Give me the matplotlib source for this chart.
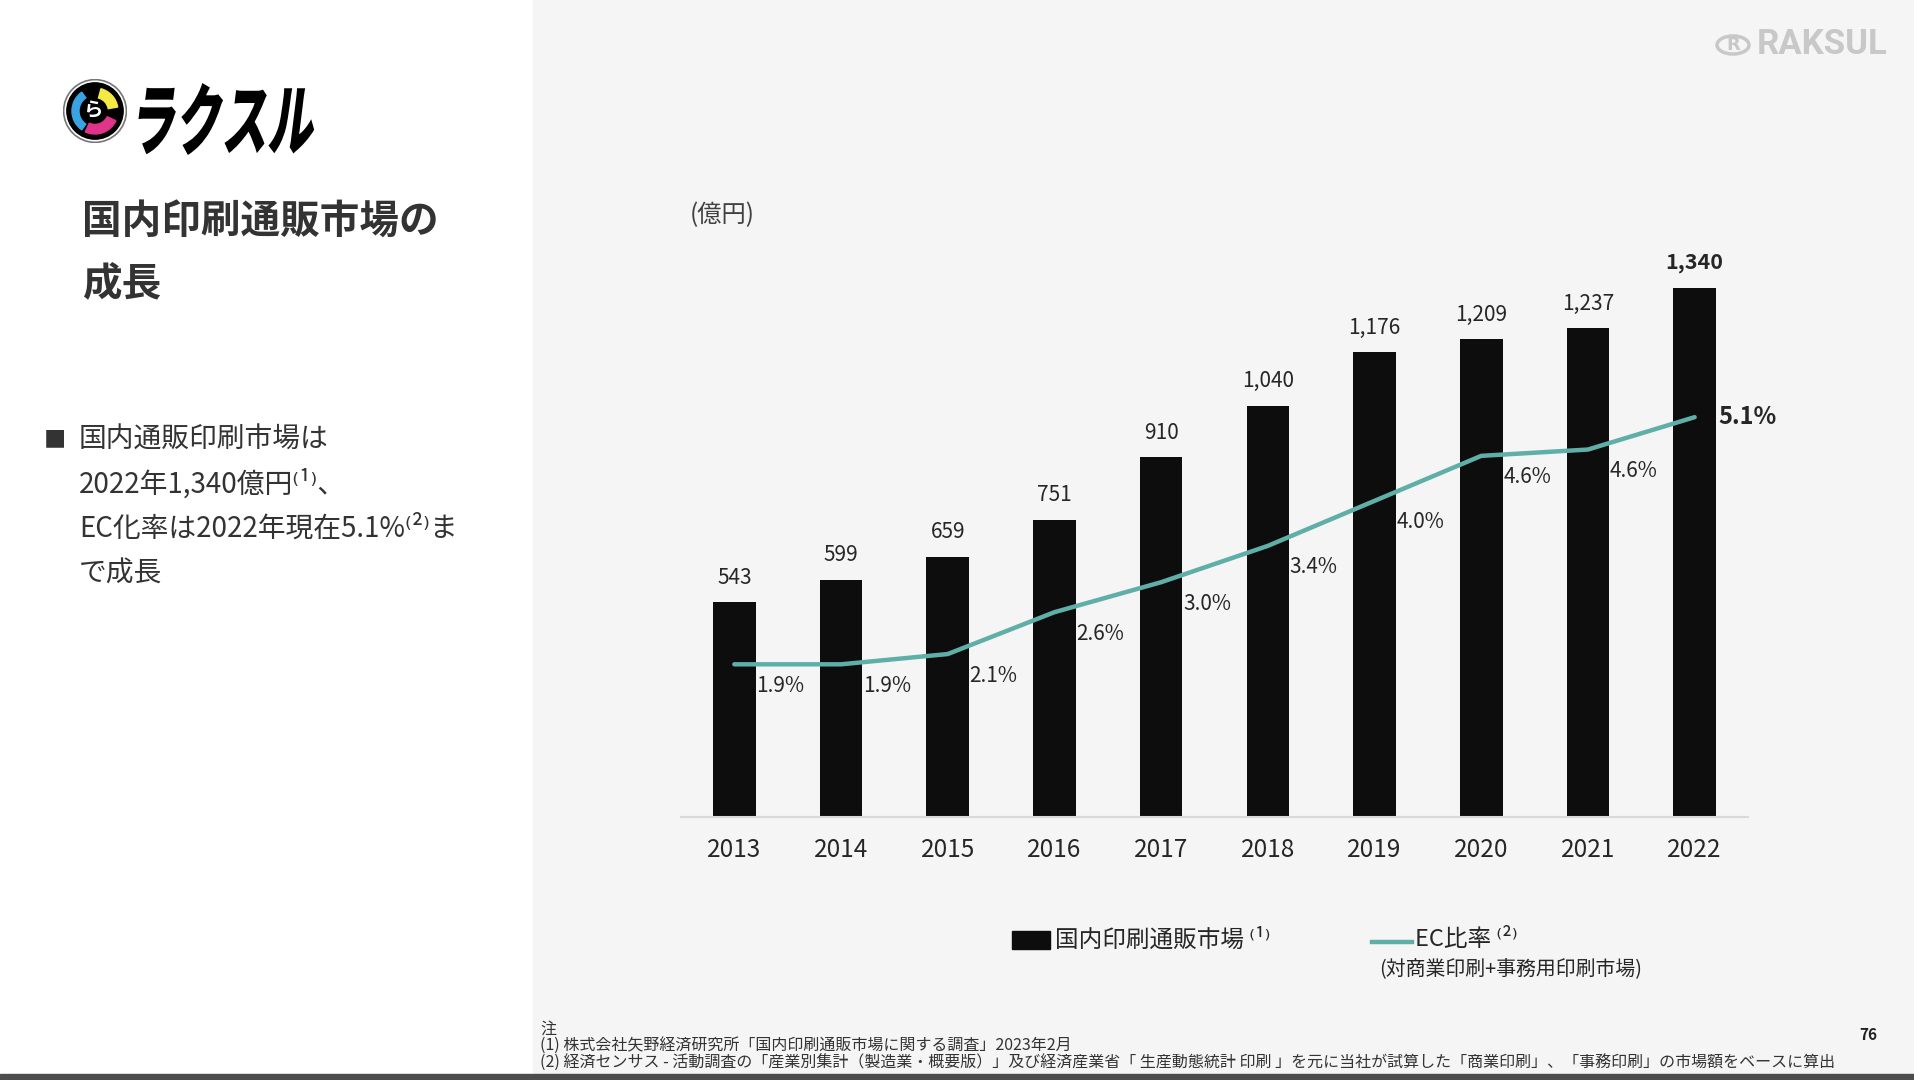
import numpy as np
import matplotlib.pyplot as plt
from matplotlib.patches import Rectangle, Circle, Wedge, PathPatch
from matplotlib.lines import Line2D
from matplotlib.textpath import TextPath
from matplotlib.font_manager import FontProperties
from matplotlib.transforms import Affine2D

plt.rcParams['font.family'] = ['Noto Sans CJK JP', 'DejaVu Sans']

### Data
years = ['2013', '2014', '2015', '2016', '2017', '2018', '2019', '2020', '2021', '2022']
market = [543, 599, 659, 751, 910, 1040, 1176, 1209, 1237, 1340]
ec_rate = [1.93, 1.93, 2.06, 2.59, 2.97, 3.43, 4.00, 4.57, 4.65, 5.06]
ec_labels = ['1.9%', '1.9%', '2.1%', '2.6%', '3.0%', '3.4%', '4.0%', '4.6%', '4.6%', '5.1%']

bar_color = '#0D0D0D'
line_color = '#5FAFA8'
text_color = '#262626'

### Figure in pixel units
W, H = 1914, 1080
fig = plt.figure(figsize=(W / 100, H / 100), dpi=100)
fig.patch.set_facecolor('white')

def fx(x):
    return x / W

def fy(y):
    return 1 - y / H

# gray right panel + dark strip at bottom (behind everything)
fig.patches.append(Rectangle((fx(533), fy(1074)), 1 - fx(533), 1074 / H,
                             transform=fig.transFigure, color='#F5F5F5', zorder=-2))
fig.patches.append(Rectangle((0, 0), 1, 6 / H, transform=fig.transFigure,
                             color='#4D4D4D', zorder=-2))

### Chart
ax = fig.add_axes([fx(681), fy(816.7), fx(1748) - fx(681), 592.2 / H])
ax.set_facecolor('none')
x = np.arange(len(years))
ax.bar(x, market, width=0.4, color=bar_color, zorder=2)
ax.set_xlim(-0.5, len(years) - 0.5)
ax.set_ylim(0, 1500)
ax.set_xticks(x, years, fontsize=17.5, color=text_color)
ax.tick_params(axis='x', length=0, pad=14.5)
ax.set_yticks([])
for s in ['top', 'left', 'right']:
    ax.spines[s].set_visible(False)
ax.spines['bottom'].set_color('#D9D9D9')
ax.spines['bottom'].set_linewidth(1.5)

for i, v in enumerate(market):
    last = i == len(market) - 1
    ax.annotate(f'{v:,}', (i, v), xytext=(0, 13.5), textcoords='offset points',
                ha='center', va='baseline', fontsize=15.5 if last else 15,
                fontweight='bold' if last else 'normal', color=text_color)

ax2 = ax.twinx()
ax2.set_ylim(0, 7.5)
ax2.set_yticks([])
for s in ax2.spines.values():
    s.set_visible(False)
ax2.plot(x, ec_rate, color=line_color, lw=3.2, solid_capstyle='round', zorder=3)

for i, (r, lbl) in enumerate(zip(ec_rate, ec_labels)):
    if i == len(ec_rate) - 1:
        ax2.annotate(lbl, (i, r), xytext=(38, 0), textcoords='offset points',
                     ha='center', va='center', fontsize=17, fontweight='bold',
                     color=text_color)
    else:
        ax2.annotate(lbl, (i, r), xytext=(33, -15.5), textcoords='offset points',
                     ha='center', va='center', fontsize=15, color=text_color)

fig.text(fx(690), fy(215), '(億円)', fontsize=17.5, color='#404040', va='center')

### Legend
fig.patches.append(Rectangle((fx(1012), fy(949)), fx(1050) - fx(1012), 18 / H,
                             transform=fig.transFigure, color=bar_color))
fig.text(fx(1055), fy(940), '国内印刷通販市場 ⁽¹⁾', fontsize=17, color=text_color, va='center')
fig.lines.append(Line2D([fx(1372), fx(1412)], [fy(942), fy(942)], transform=fig.transFigure,
                        color=line_color, lw=3.2))
fig.text(fx(1415), fy(940), 'EC比率 ⁽²⁾', fontsize=17, color=text_color, va='center')
fig.text(fx(1379), fy(969), '(対商業印刷+事務用印刷市場)', fontsize=14.3, color=text_color, va='center')

### Left side text
fig.text(fx(82), fy(222), '国内印刷通販市場の', fontsize=28.5, fontweight='bold',
         color='#333333', va='center')
fig.text(fx(82), fy(285), '成長', fontsize=28.5, fontweight='bold', color='#333333', va='center')

fig.text(fx(44), fy(440), '■', fontsize=16, color='#333333', va='center')
bullet_lines = ['国内通販印刷市場は', '2022年1,340億円⁽¹⁾、', 'EC化率は2022年現在5.1%⁽²⁾ま', 'で成長']
for k, line in enumerate(bullet_lines):
    fig.text(fx(79), fy(440 + k * 44.5), line, fontsize=20, color='#333333', va='center')

### Footnotes
fig.text(fx(540), fy(1029), '注', fontsize=11.5, color='#333333', va='center')
fig.text(fx(540), fy(1046), '(1) 株式会社矢野経済研究所「国内印刷通販市場に関する調査」2023年2月',
         fontsize=11.5, color='#333333', va='center')
fig.text(fx(540), fy(1063),
         '(2) 経済センサス - 活動調査の「産業別集計（製造業・概要版）」及び経済産業省「 生産動態統計 印刷 」'
         'を元に当社が試算した「商業印刷」、「事務印刷」の市場額をベースに算出',
         fontsize=11.5, color='#333333', va='center')
fig.text(fx(1868), fy(1035), '76', fontsize=11, fontweight='bold', color='#222222',
         va='center', ha='center')

### Logos
# ラクスル mark (circle with coloured pieces)
rad = 32
logo = fig.add_axes([fx(95 - rad), fy(111 + rad), 2 * rad / W, 2 * rad / H])
logo.set_xlim(-1, 1)
logo.set_ylim(-1, 1)
logo.set_aspect('equal')
logo.axis('off')
logo.add_patch(Circle((0, 0), 0.98, facecolor='white', edgecolor='#777777', lw=1.2))
logo.add_patch(Circle((0, 0), 0.88, color='black'))
logo.add_patch(Wedge((0, 0), 0.72, 125, 235, width=0.22, color='#3AA3E3'))
logo.add_patch(Wedge((0, 0), 0.72, 245, 335, width=0.30, color='#E0338A'))
logo.add_patch(Wedge((0, 0), 0.72, 10, 75, width=0.30, color='#F5E943'))
logo.text(-0.05, 0.0, 'ら', fontsize=14, fontweight='bold', color='white',
          ha='center', va='center')

# ラクスル wordmark, slanted and stretched
tp = TextPath((0, 0), 'ラクスル', size=100, prop=FontProperties(family='Noto Sans CJK JP', weight='heavy'))
ext = tp.get_extents()
slant = np.tan(np.radians(12))
full_w = ext.width + slant * ext.height
tr = (Affine2D().translate(-ext.x0, -ext.y0).skew_deg(12, 0)
      .scale(186 / full_w, 72 / ext.height)
      .translate(134, H - 155)
      .scale(1 / W, 1 / H) + fig.transFigure)
fig.patches.append(PathPatch(tp, transform=tr, color='black', lw=0))

# RAKSUL top right
fig.patches.append(Circle((fx(1733), fy(45)), 16 / W, transform=fig.transFigure,
                          facecolor='none', edgecolor='#C8C8C8', lw=2.5))
fig.text(fx(1733), fy(45), 'R', fontsize=13, fontweight='bold', color='#C8C8C8',
         ha='center', va='center', family='DejaVu Sans')
fig.text(fx(1757), fy(45), 'RAKSUL', fontsize=25, fontweight='bold', color='#C8C8C8',
         va='center', family='Roboto')

fig.savefig('out.png', dpi=100)
